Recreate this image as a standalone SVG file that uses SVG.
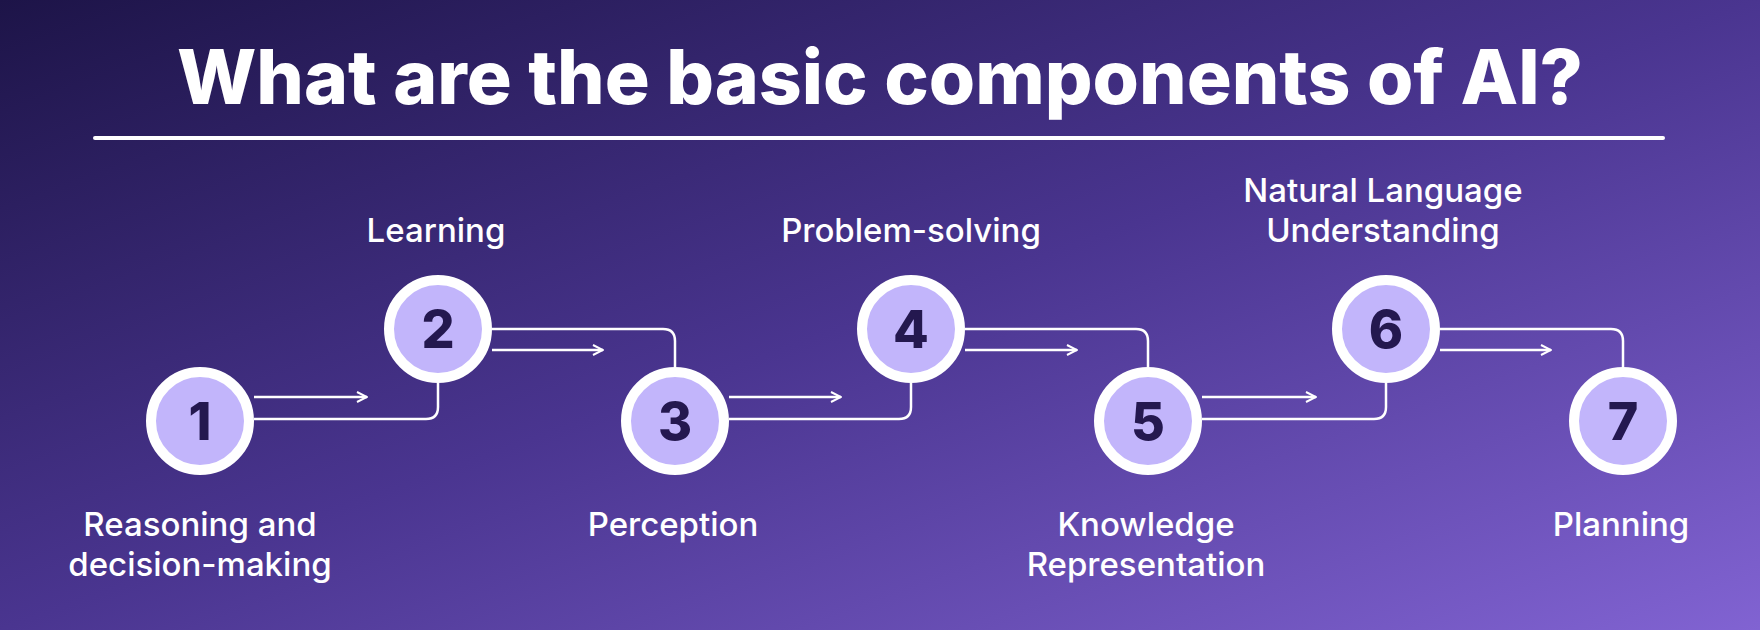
<svg xmlns="http://www.w3.org/2000/svg" width="1760" height="630" viewBox="0 0 1760 630">
<defs>
<linearGradient id="bg" x1="0" y1="0" x2="1" y2="1">
<stop offset="0" stop-color="#1d1448"/>
<stop offset="0.5" stop-color="#4a3590"/>
<stop offset="1" stop-color="#8163d2"/>
</linearGradient>
<marker id="ah" viewBox="0 0 12 12" refX="11" refY="6" markerWidth="12" markerHeight="12" markerUnits="userSpaceOnUse" orient="auto">
<path d="M1 1 L11 6 L1 11" fill="none" stroke="#fff" stroke-width="2"/>
</marker>
</defs>
<style>
.c{fill:#c2b5fb;stroke:#fff;stroke-width:10}
.n{font-family:Inter,"Liberation Sans",sans-serif;font-weight:800;font-size:52px;fill:#24184f;text-anchor:middle}
.l{font-family:Inter,"Liberation Sans",sans-serif;font-weight:500;font-size:33px;fill:#fff;text-anchor:middle}
.k{fill:none;stroke:#fff;stroke-width:2.5}
</style>
<rect width="1760" height="630" fill="url(#bg)"/>
<text x="880" y="104" font-family="Inter,'Liberation Sans',sans-serif" font-weight="800" font-size="75" fill="#fff" text-anchor="middle">What are the basic components of AI?</text>
<line x1="95" y1="138" x2="1663" y2="138" stroke="#fff" stroke-width="4" stroke-linecap="round"/>
<g id="connectors">
<path class="k" d="M254 397 H367" marker-end="url(#ah)"/>
<path class="k" d="M254 419 H426 Q438 419 438 407 V383"/>
<path class="k" d="M492 329 H663 Q675 329 675 341 V367"/>
<path class="k" d="M492 350 H603" marker-end="url(#ah)"/>
<path class="k" d="M729 397 H841" marker-end="url(#ah)"/>
<path class="k" d="M729 419 H899 Q911 419 911 407 V383"/>
<path class="k" d="M965 329 H1136 Q1148 329 1148 341 V367"/>
<path class="k" d="M965 350 H1077" marker-end="url(#ah)"/>
<path class="k" d="M1202 397 H1316" marker-end="url(#ah)"/>
<path class="k" d="M1202 419 H1374 Q1386 419 1386 407 V383"/>
<path class="k" d="M1440 329 H1611 Q1623 329 1623 341 V367"/>
<path class="k" d="M1440 350 H1551" marker-end="url(#ah)"/>
</g>
<g id="n1"><circle class="c" cx="200" cy="421" r="49"/><text class="n" x="200" y="440">1</text><text class="l" x="200" y="536">Reasoning and</text><text class="l" x="200" y="576">decision-making</text></g>
<g id="n2"><circle class="c" cx="438" cy="329" r="49"/><text class="n" x="438" y="348">2</text><text class="l" x="436" y="242">Learning</text></g>
<g id="n3"><circle class="c" cx="675" cy="421" r="49"/><text class="n" x="675" y="440">3</text><text class="l" x="673" y="536">Perception</text></g>
<g id="n4"><circle class="c" cx="911" cy="329" r="49"/><text class="n" x="911" y="348">4</text><text class="l" x="911" y="242">Problem-solving</text></g>
<g id="n5"><circle class="c" cx="1148" cy="421" r="49"/><text class="n" x="1148" y="440">5</text><text class="l" x="1146" y="536">Knowledge</text><text class="l" x="1146" y="576">Representation</text></g>
<g id="n6"><circle class="c" cx="1386" cy="329" r="49"/><text class="n" x="1386" y="348">6</text><text class="l" x="1383" y="202">Natural Language</text><text class="l" x="1383" y="242">Understanding</text></g>
<g id="n7"><circle class="c" cx="1623" cy="421" r="49"/><text class="n" x="1623" y="440">7</text><text class="l" x="1621" y="536">Planning</text></g>
</svg>
